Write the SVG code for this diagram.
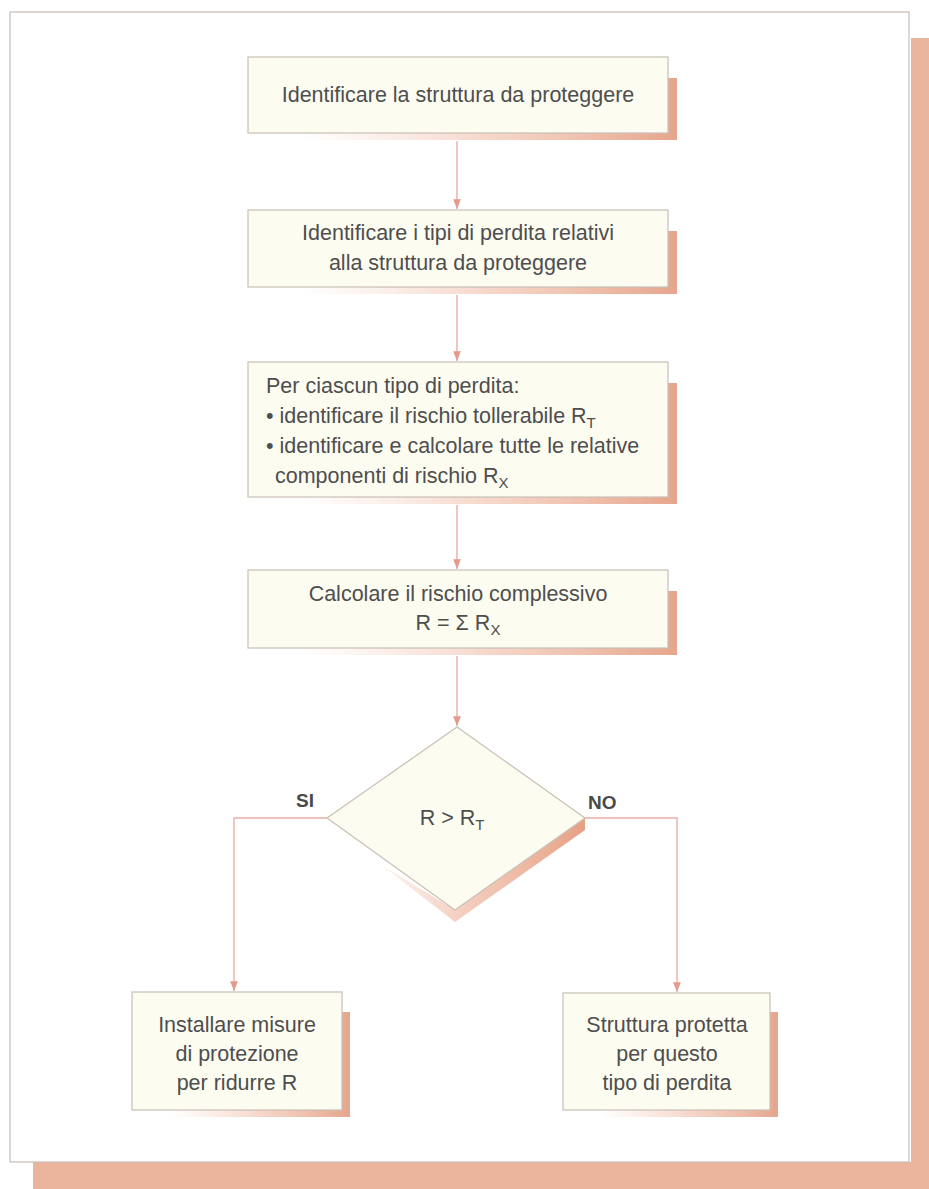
<svg xmlns="http://www.w3.org/2000/svg" width="929" height="1189" viewBox="0 0 929 1189">
<defs>
<style>
.box{fill:#fdfcf1;stroke:#c9bfb6;stroke-width:1.2}
.t{font-family:"Liberation Sans",Arial,sans-serif;font-size:21.5px;fill:#4e4e4e}
.c{text-anchor:middle}
.lbl{font-family:"Liberation Sans",Arial,sans-serif;font-size:19px;font-weight:bold;fill:#4a4a4a}
.sub{font-size:15px}
.ln{fill:none;stroke:#eab0a6;stroke-width:1.4}
</style>
<linearGradient id="sh" x1="0" y1="0" x2="1" y2="0">
<stop offset="0" stop-color="#f3c9b6" stop-opacity="0"/>
<stop offset="0.5" stop-color="#efbca6" stop-opacity="0.6"/>
<stop offset="1" stop-color="#e6a58c"/>
</linearGradient>
<linearGradient id="dsh" x1="0" y1="0" x2="1" y2="0">
<stop offset="0" stop-color="#f3c9b6" stop-opacity="0.2"/>
<stop offset="0.4" stop-color="#efb9a2" stop-opacity="0.7"/>
<stop offset="1" stop-color="#e6a084"/>
</linearGradient>
<marker id="ah" viewBox="0 0 10 10" refX="10" refY="5" markerWidth="7" markerHeight="7" orient="auto">
<path d="M0,1 L10,5 L0,9 Z" fill="#e59a8c"/>
</marker>
</defs>
<rect x="0" y="0" width="929" height="1189" fill="#ffffff"/>
<g id="frame">
<rect x="911" y="38" width="18" height="1151" fill="#ebb49c"/>
<rect x="33" y="1162" width="896" height="27" fill="#ebb49c"/>
<rect x="10" y="12" width="899" height="1150" fill="#ffffff" stroke="#c8bcb6" stroke-width="1.2"/>
</g>
<g id="connectors">
<line class="ln" x1="457" y1="141" x2="457" y2="209" marker-end="url(#ah)"/>
<line class="ln" x1="457" y1="295" x2="457" y2="361" marker-end="url(#ah)"/>
<line class="ln" x1="457" y1="505" x2="457" y2="569" marker-end="url(#ah)"/>
<line class="ln" x1="457" y1="656" x2="457" y2="726" marker-end="url(#ah)"/>
<polyline class="ln" points="327,818 234,818 234,991" marker-end="url(#ah)"/>
<polyline class="ln" points="585,818 677,818 677,992" marker-end="url(#ah)"/>
</g>
<g id="n1">
<polygon points="300,140 677,140 677,78 668,78 668,133 300,133" fill="url(#sh)"/>
<rect class="box" x="248" y="57" width="420" height="76"/>
<text class="t c" x="458" y="102">Identificare la struttura da proteggere</text>
</g>
<g id="n2">
<polygon points="300,294 677,294 677,231 668,231 668,287 300,287" fill="url(#sh)"/>
<rect class="box" x="248" y="210" width="420" height="77"/>
<text class="t c" x="458" y="240">Identificare i tipi di perdita relativi</text>
<text class="t c" x="458" y="270">alla struttura da proteggere</text>
</g>
<g id="n3">
<polygon points="300,504 677,504 677,383 668,383 668,497 300,497" fill="url(#sh)"/>
<rect class="box" x="248" y="362" width="420" height="135"/>
<text class="t" x="266" y="393">Per ciascun tipo di perdita:</text>
<text class="t" x="266" y="423">• identificare il rischio tollerabile R<tspan class="sub" dy="5">T</tspan></text>
<text class="t" x="266" y="453">• identificare e calcolare tutte le relative</text>
<text class="t" x="275" y="483">componenti di rischio R<tspan class="sub" dy="5">X</tspan></text>
</g>
<g id="n4">
<polygon points="300,655 677,655 677,591 668,591 668,648 300,648" fill="url(#sh)"/>
<rect class="box" x="248" y="570" width="420" height="78"/>
<text class="t c" x="458" y="601">Calcolare il rischio complessivo</text>
<text class="t c" x="458" y="630">R = Σ R<tspan class="sub" dy="5">X</tspan></text>
</g>
<g id="n5">
<polygon points="380,864 455,910 585,818 585,830 455,922" fill="url(#dsh)"/>
<polygon points="457,727 585,818 455,910 327,818" fill="#fdfcf1" stroke="#c9bfb6" stroke-width="1.2"/>
<text class="t c" x="452" y="825">R &gt; R<tspan class="sub" dy="5">T</tspan></text>
</g>
<text class="lbl" x="296" y="807">SI</text>
<text class="lbl" x="588" y="809">NO</text>
<g id="n6">
<polygon points="170,1117 350,1117 350,1012 342,1012 342,1110 170,1110" fill="url(#sh)"/>
<rect class="box" x="132" y="992" width="210" height="118"/>
<text class="t c" x="237" y="1032">Installare misure</text>
<text class="t c" x="237" y="1061">di protezione</text>
<text class="t c" x="237" y="1090">per ridurre R</text>
</g>
<g id="n7">
<polygon points="600,1117 778,1117 778,1012 770,1012 770,1110 600,1110" fill="url(#sh)"/>
<rect class="box" x="563" y="993" width="207" height="117"/>
<text class="t c" x="667" y="1032">Struttura protetta</text>
<text class="t c" x="667" y="1061">per questo</text>
<text class="t c" x="667" y="1090">tipo di perdita</text>
</g>
</svg>
